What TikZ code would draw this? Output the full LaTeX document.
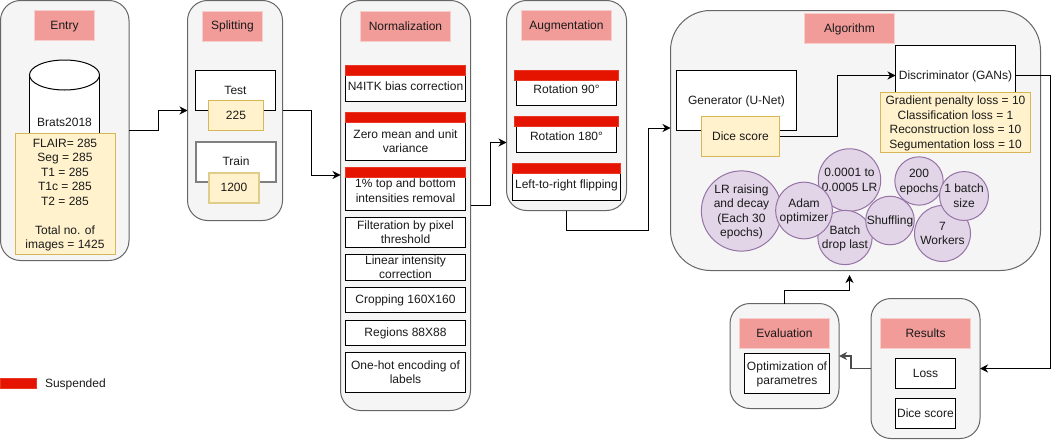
\documentclass[tikz,border=0pt]{standalone}
\usepackage{fontspec}
\setmainfont{Liberation Sans}
\usetikzlibrary{arrows.meta}
\definecolor{txt}{HTML}{1A1A1A}
\definecolor{panelfill}{HTML}{F5F5F5}
\definecolor{panelline}{HTML}{666666}
\definecolor{headfill}{HTML}{F19C99}
\definecolor{headline}{HTML}{F8CECC}
\definecolor{noteline}{HTML}{D6B656}
\definecolor{notefill}{HTML}{FFF2CC}
\definecolor{circfill}{HTML}{E1D5E7}
\definecolor{circline}{HTML}{9673A6}
\definecolor{suspfill}{HTML}{E51400}
\newcommand{\tstrut}{\rule[-3.45pt]{0pt}{14.5pt}}
\tikzset{
  base/.style={anchor=north west,inner xsep=0pt,inner ysep=-10pt,outer sep=0pt,align=center,text=txt,
    font=\fontsize{12}{14.5}\selectfont},
  at box/.style n args={4}{at={(#1,#2)},minimum width=#3pt,minimum height=#4pt},
  panel/.style={base,draw=panelline,fill=panelfill,line width=1pt,rounded corners=20pt},
  head/.style={base,draw=headline,fill=headfill,line width=1pt},
  whitebox/.style={base,draw=black,fill=white,line width=1pt},
  graybox/.style={base,draw=gray,fill=white,line width=2pt},
  note/.style={base,draw=noteline,fill=notefill,line width=1pt},
  softnote/.style={note,draw=noteline!70,line width=1.5pt},
  susp/.style={base,draw=suspfill!85!white,fill=suspfill,line width=.8pt},
  bubble/.style={anchor=center,circle,inner sep=0pt,outer sep=0pt,align=center,text=txt,
    draw=circline,fill=circfill,line width=1pt,font=\fontsize{12}{14.5}\selectfont},
  plaintext/.style={anchor=center,inner sep=0pt,outer sep=0pt,align=center,text=txt,
    font=\fontsize{12}{14.5}\selectfont},
  link/.style={draw=black,line width=1pt,-{Stealth[length=8pt,width=8pt,inset=2.5pt]}},
  graylink/.style={link,draw=black!70,line width=1.3pt},
}
\begin{document}
\begin{tikzpicture}[x=1pt,y=-1pt]
\useasboundingbox (0,0) rectangle (1060,439);
% panels
\node[panel,at box={0.5}{0.5}{128.5}{260}] (entry) {};
\node[panel,at box={187.5}{0.5}{95}{220}] (split) {};
\node[panel,at box={340.5}{0.5}{130}{410}] (norm) {};
\node[panel,at box={506.5}{0.5}{120}{210}] (augm) {};
\node[panel,rounded corners=40pt,at box={670.5}{10.5}{370}{260}] (algo) {};
\node[panel,at box={871}{298.5}{109}{140}] (results) {};
\node[panel,at box={730}{303.5}{109}{105}] (evalp) {};
% headers
\node[head,at box={34.5}{10.5}{60}{30}] (h1) {\tstrut Entry};
\node[head,at box={202.5}{11}{60}{30}] (h2) {\tstrut Splitting};
\node[head,at box={360.5}{11.5}{90}{30}] (h3) {\tstrut Normalization};
\node[head,at box={521.5}{10.5}{90}{30}] (h4) {\tstrut Augmentation};
\node[head,at box={804.5}{13.5}{90}{30}] (h5) {\tstrut Algorithm};
\node[head,at box={880.5}{318.5}{90}{30}] (h6) {\tstrut Results};
\node[head,at box={739.5}{318.5}{90}{30}] (h7) {\tstrut Evaluation};
% cylinder
\draw[black,fill=white,line width=1pt] (29.5,75) -- (29.5,170) -- (99.5,170) -- (99.5,75);
\draw[black,fill=white,line width=1pt] (64.5,75) ellipse [x radius=35,y radius=15];
\node[plaintext,at={(64.5,122.5)}] (brats) {\tstrut Brats2018};
\node[note,at box={15}{133.5}{100}{121}] (counts) {\tstrut FLAIR= 285\\Seg = 285\\T1 = 285\\T1c = 285\\T2 = 285\\[14.5pt]Total no. of\\images = 1425\tstrut};
% splitting
\node[whitebox,at box={195.5}{70.5}{80}{40}] (test) {\tstrut Test};
\node[note,at box={208.5}{100.5}{55}{30}] (n225) {\tstrut 225};
\node[graybox,at box={196}{142}{80}{40}] (train) {\tstrut Train};
\node[softnote,at box={209}{173}{50}{30}] (n1200) {\tstrut 1200};
% normalization
\node[whitebox,at box={345.5}{71}{120}{30.5}] (b1) {\tstrut N4ITK bias correction};
\node[susp,at box={345.5}{65.5}{120}{10}] (s1) {};
\node[whitebox,at box={345.5}{122.5}{120}{38}] (b2) {\tstrut Zero mean and unit\\variance\tstrut};
\node[susp,at box={345.5}{112.5}{120}{10}] (s2) {};
\node[whitebox,at box={345.5}{171.5}{120}{39}] (b3) {\tstrut 1\% top and bottom\\intensities removal\tstrut};
\node[susp,at box={345.5}{167.5}{120}{10}] (s3) {};
\node[whitebox,at box={345.5}{217.5}{120}{30}] (b4) {\tstrut Filteration by pixel\\threshold\tstrut};
\node[whitebox,at box={345.5}{254.5}{120}{26}] (b5) {\tstrut Linear intensity\\correction\tstrut};
\node[whitebox,at box={345.5}{287.5}{120}{25}] (b6) {\tstrut Cropping 160X160};
\node[whitebox,at box={345.5}{320.5}{120}{25}] (b7) {\tstrut Regions 88X88};
\node[whitebox,at box={345.5}{352.5}{120}{40}] (b8) {\tstrut One-hot encoding of\\labels\tstrut};
% augmentation
\node[whitebox,at box={516.5}{74.5}{100}{31}] (a1) {\tstrut Rotation 90°};
\node[susp,at box={514.5}{70.5}{104}{10}] (s4) {};
\node[whitebox,at box={516.5}{121.5}{100}{31}] (a2) {\tstrut Rotation 180°};
\node[susp,at box={514.5}{116.5}{104}{10}] (s5) {};
\node[whitebox,at box={512.5}{169.5}{108}{31}] (a3) {\tstrut Left-to-right flipping};
\node[susp,at box={512.5}{163}{108}{10}] (s6) {};
% algorithm
\node[whitebox,at box={676.5}{70.5}{120}{60}] (gen) {\tstrut Generator (U-Net)};
\node[note,at box={701.5}{116.5}{78}{40}] (dice) {\tstrut Dice score};
\node[whitebox,at box={895.5}{45.5}{120}{60}] (disc) {\tstrut Discriminator (GANs)};
\node[note,at box={880.5}{92.5}{150}{60}] (losses) {\tstrut Gradient penalty loss = 10\\Classification loss = 1\\Reconstruction loss = 10\\Segumentation loss = 10\tstrut};
% bubbles
\node[bubble,minimum size=76pt,at={(741.5,211)}] (c1) {\tstrut LR raising\\and decay\\(Each 30\\epochs)\tstrut};
\node[bubble,minimum size=62pt,at={(849.5,180)}] (c3) {\tstrut 0.0001 to\\0.0005 LR\tstrut};
\node[bubble,minimum size=53pt,at={(845,237.5)}] (c4) {\tstrut Batch\\drop last\tstrut};
\node[bubble,minimum size=53pt,at={(804,210.5)}] (c2) {\tstrut Adam\\optimizer\tstrut};
\node[bubble,minimum size=48pt,at={(890,220.5)}] (c5) {\tstrut Shuffling};
\node[bubble,minimum size=48pt,at={(919,181)}] (c6) {\tstrut 200\\epochs\tstrut};
\node[bubble,minimum size=56pt,at={(942.5,233.5)}] (c7) {\tstrut 7\\Workers\tstrut};
\node[bubble,minimum size=48pt,at={(964,196)}] (c8) {\tstrut 1 batch\\size\tstrut};
% results and evaluation
\node[whitebox,at box={895.5}{358.5}{60}{30}] (loss) {\tstrut Loss};
\node[whitebox,at box={895.5}{398.5}{60}{30}] (rdice) {\tstrut Dice score};
\node[whitebox,at box={744.5}{353.5}{85}{40}] (opt) {\tstrut Optimization of\\parametres\tstrut};
% legend
\node[susp,at box={0.5}{378.5}{36}{10}] (legendbar) {};
\node[plaintext,anchor=west,at={(45,384)}] (legendtext) {\tstrut Suspended};
% connector ends on the panel borders
\coordinate (normin) at (norm.west |- 0,175);
\coordinate (normout) at (norm.east |- 0,205);
\coordinate (augin) at (augm.west |- 0,142.5);
\coordinate (augout) at (augm.south);
\coordinate (algoin) at (algo.west |- 0,128);
\coordinate (evalout) at (784.5,303.5);
\coordinate (algoback) at (849.5,275);
\coordinate (resin) at (results.east |- 0,368.5);
\coordinate (resout) at (results.west |- 0,368.5);
\coordinate (evalin) at (evalp.east |- 0,356);
% connectors
\draw[link] (entry.east) -- (158.5,130.5) -- (158.5,110.5) -- (split.west);
\draw[link] (split.east) -- (311.5,110.5) -- (311.5,175) -- (normin);
\draw[link] (normout) -- (490.5,205) -- (490.5,142.5) -- (augin);
\draw[link] (augout) -- (566.5,230.5) -- (648.5,230.5) -- (648.5,128) -- (algoin);
\draw[link] (dice.east) -- (837.5,136.5) -- (837.5,75.5) -- (disc.west);
\draw[link] (disc.east) -- (1050.5,75.5) -- (1050.5,368.5) -- (resin);
\draw[graylink] (resout) -- (851,368.5) -- (851,356) -- (evalin);
\draw[link] (evalout) -- (784.5,290.5) -- (849.5,290.5) -- (algoback);
\end{tikzpicture}
\end{document}
